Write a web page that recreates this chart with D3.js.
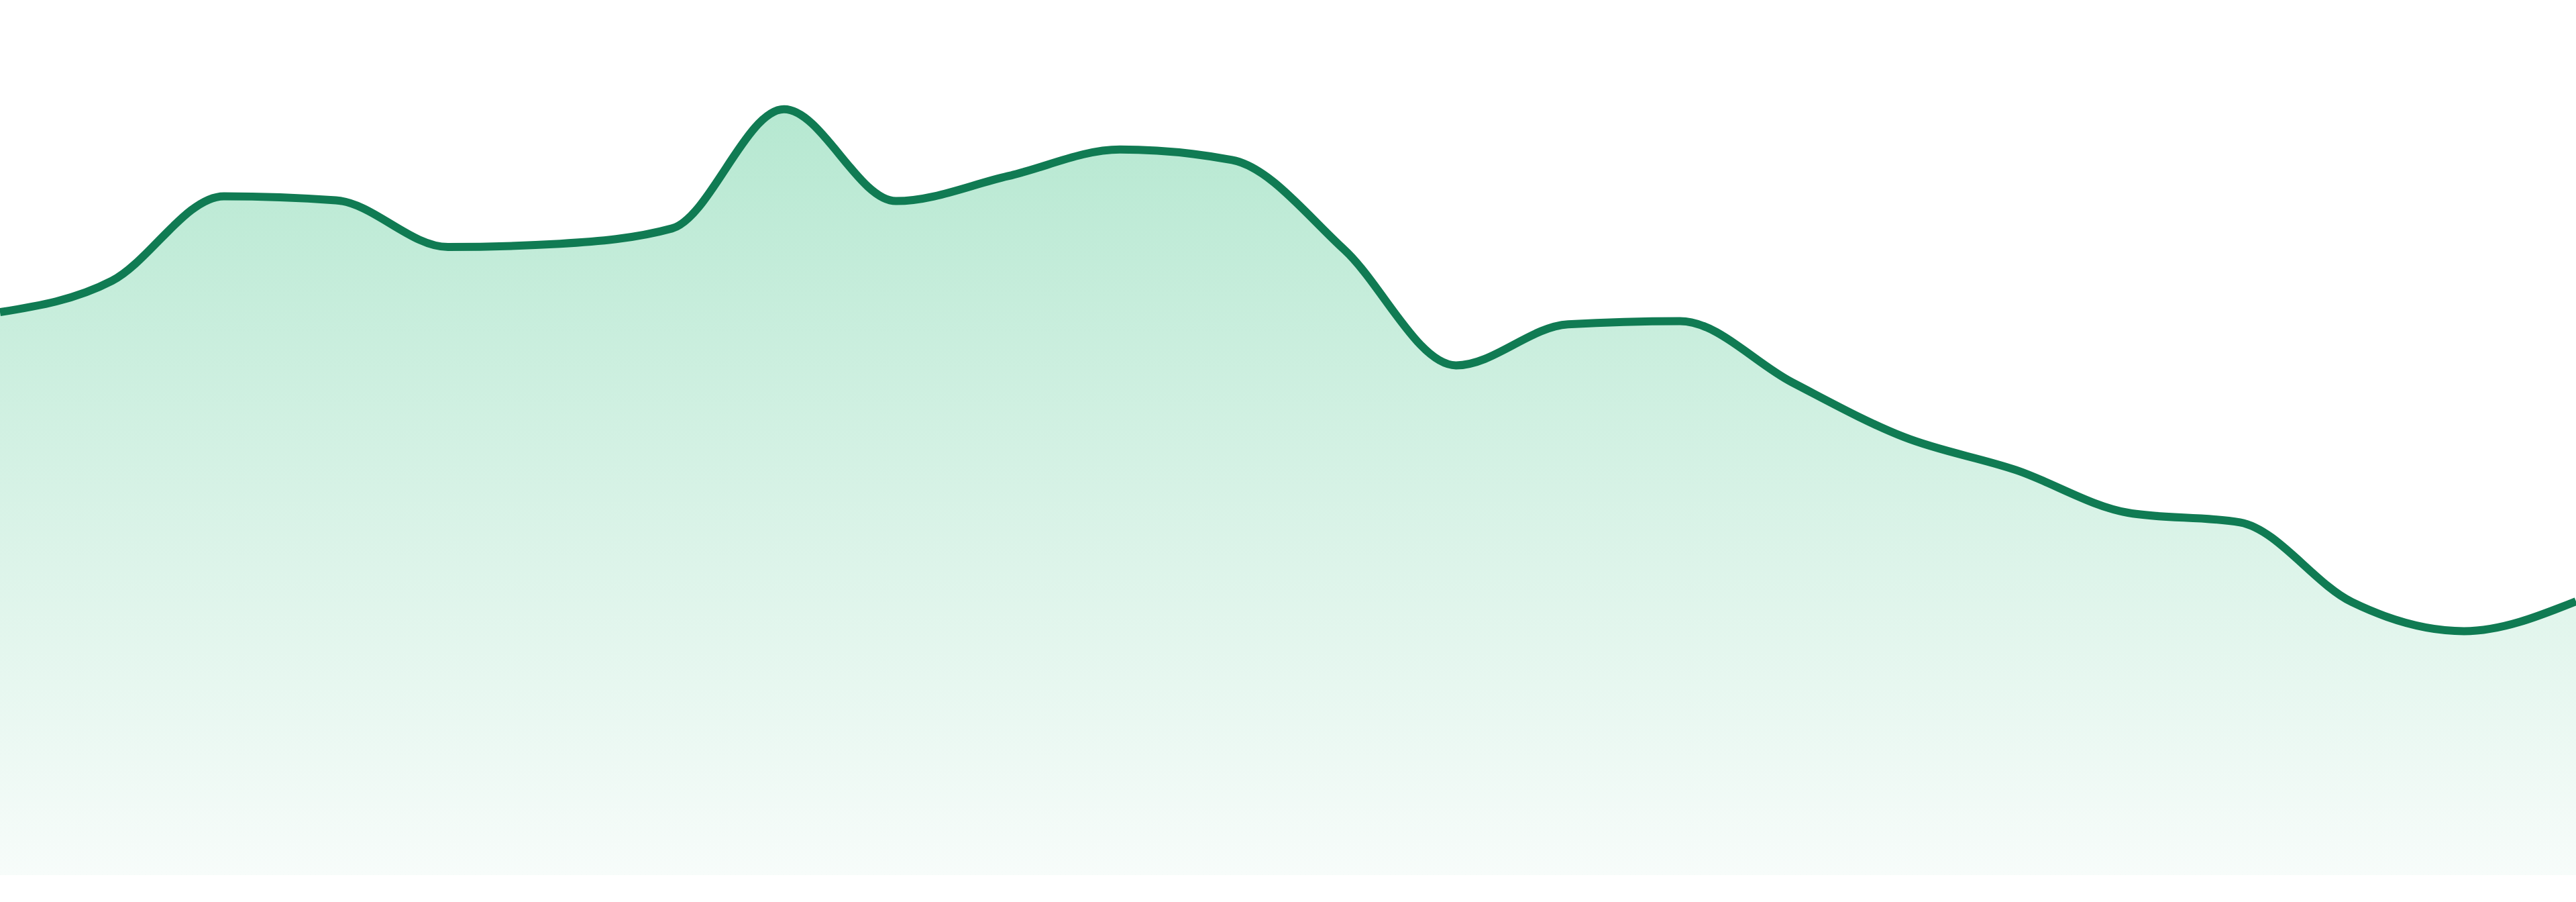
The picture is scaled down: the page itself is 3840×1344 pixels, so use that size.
<!DOCTYPE html>
<html>
<head>
<meta charset="utf-8">
<script src="https://cdn.jsdelivr.net/npm/d3@7"></script>
<style>
  html, body { margin: 0; padding: 0; background: #ffffff; }
  svg { display: block; }
</style>
</head>
<body>
<div id="chart"></div>
<script>
// categories along x (no labels are shown in the chart)
let days = d3.range(1, 25).map(d => "d" + d)

// series values
let values = [
  69.9, 73.8, 84.3, 83.8, 78.0, 78.4, 80.3, 95.1,
  83.7, 86.8, 90.1, 88.8, 77.7, 63.3, 68.4, 68.8,
  61.2, 54.4, 50.3, 45.0, 43.8, 33.9, 30.3, 34.0
]

let yDomain = [0, 100]

const width = 3840
const height = 1344

let svg = d3.select("#chart")
  .append("svg")
  .attr("width", width)
  .attr("height", height)

let x = d3.scalePoint()
  .domain(days)
  .range([0, width])

let y = d3.scaleLinear()
  .domain(yDomain)
  .range([1304, 104])

let data = days.map((d, i) => ({day: d, value: values[i]}))

// vertical fade under the line
let grad = svg.append("defs")
  .append("linearGradient")
  .attr("id", "fade")
  .attr("gradientUnits", "userSpaceOnUse")
  .attr("x1", 0).attr("x2", 0)
  .attr("y1", y(d3.max(values)))
  .attr("y2", y(0))

grad.append("stop").attr("offset", "0%").attr("stop-color", "#b6e8d1")
grad.append("stop").attr("offset", "100%").attr("stop-color", "#f7fcfa")

let area = d3.area()
  .x(d => x(d.day))
  .y0(y(0))
  .y1(d => y(d.value))
  .curve(d3.curveMonotoneX)

let line = d3.line()
  .x(d => x(d.day))
  .y(d => y(d.value))
  .curve(d3.curveMonotoneX)

svg.append("path")
  .datum(data)
  .attr("d", area)
  .style("fill", "url(#fade)")

svg.append("path")
  .datum(data)
  .attr("d", line)
  .style("fill", "none")
  .style("stroke", "#107b53")
  .style("stroke-width", 12)
  .style("stroke-linejoin", "round")
</script>
</body>
</html>
